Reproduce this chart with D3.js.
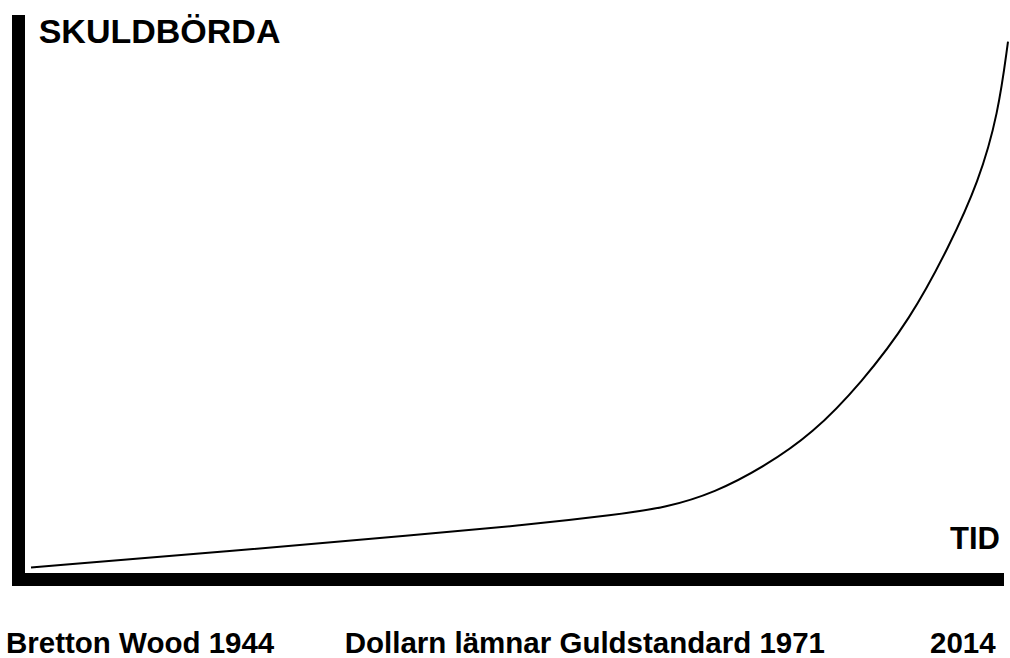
<!DOCTYPE html>
<html>
<head>
<meta charset="utf-8">
<script src="https://cdn.jsdelivr.net/npm/d3@7"></script>
<style>
  html, body { margin: 0; padding: 0; background: #fff; }
  text { font-family: "Liberation Sans", Arial, sans-serif; font-weight: bold; fill: #000; }
</style>
</head>
<body>
<div id="chart"></div>
<script>
// Time index (0 = Bretton Wood, 100 = today) and debt burden (0-100)
const tid = [0, 20, 40, 50, 60, 65, 70, 75, 80, 85, 90, 94, 97, 99, 100]
const skuld = [1.4, 4.4, 7.6, 9.2, 11.3, 12.6, 15.4, 20.2, 26.4, 35.9, 47.8, 61.5, 73.5, 86.2, 99.7]

const yTitle = "SKULDBÖRDA"
const xTitle = "TID"
const bottomLabels = ["Bretton Wood 1944", "Dollarn lämnar Guldstandard 1971", "2014"]
const bottomX = [6, 344.7, 930]

const width = 1010
const height = 658

const svg = d3.select("#chart").append("svg")
  .attr("width", width)
  .attr("height", height)

const x = d3.scaleLinear().domain([0, 100]).range([31, 1008])
const y = d3.scaleLinear().domain([0, 100]).range([575, 40])

// thick axes
svg.append("line")
  .attr("x1", 18.5).attr("x2", 18.5)
  .attr("y1", 15).attr("y2", 586)
  .attr("stroke", "#000").attr("stroke-width", 13)

svg.append("line")
  .attr("x1", 12).attr("x2", 1004)
  .attr("y1", 579.5).attr("y2", 579.5)
  .attr("stroke", "#000").attr("stroke-width", 13)

// the curve (smoothed through the read-off points)
const line = d3.line()
  .x((d, i) => x(tid[i]))
  .y(d => y(d))
  .curve(d3.curveBasis)

svg.append("path")
  .datum(skuld)
  .attr("fill", "none")
  .attr("stroke", "#000")
  .attr("stroke-width", 2)
  .attr("d", line)

// labels
svg.append("text")
  .attr("x", 38.7).attr("y", 42.7)
  .attr("font-size", 34)
  .text(yTitle)

svg.append("text")
  .attr("x", 1000).attr("y", 549.3)
  .attr("text-anchor", "end")
  .attr("font-size", 31)
  .text(xTitle)

svg.append("g")
  .selectAll("text")
  .data(bottomLabels)
  .join("text")
  .attr("x", (d, i) => bottomX[i])
  .attr("y", 653.3)
  .attr("font-size", 29.5)
  .text(d => d)
</script>
</body>
</html>
